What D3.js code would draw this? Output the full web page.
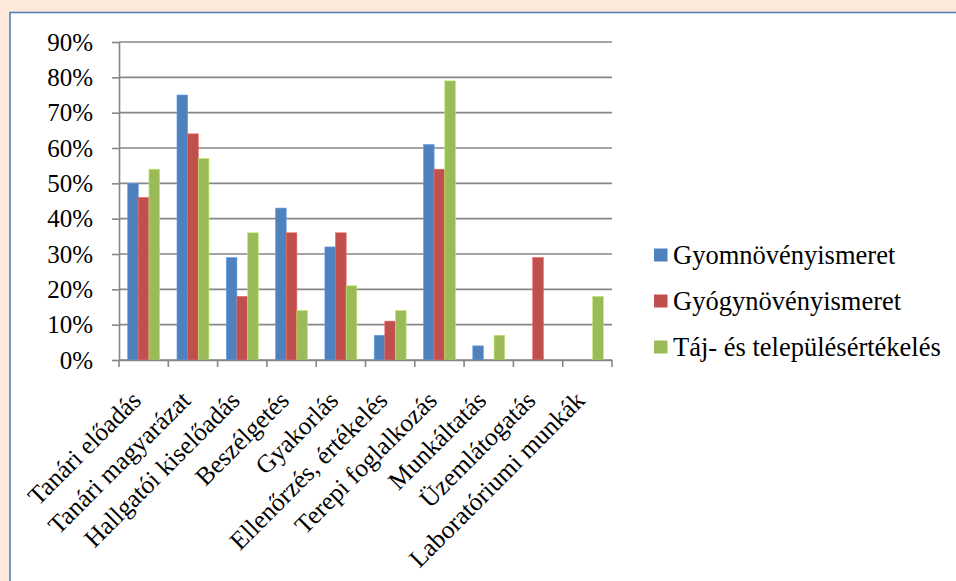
<!DOCTYPE html>
<html><head><meta charset="utf-8">
<script src="https://cdn.jsdelivr.net/npm/d3@7"></script>
<style>body{margin:0;background:#FDE9D9;} svg{display:block;}</style>
</head><body>
<svg id="c" width="956" height="581"></svg>
<script>
const categories = ["Tanári előadás","Tanári magyarázat","Hallgatói kiselőadás","Beszélgetés","Gyakorlás","Ellenőrzés, értékelés","Terepi foglalkozás","Munkáltatás","Üzemlátogatás","Laboratóriumi munkák"];
const seriesNames = ["Gyomnövényismeret","Gyógynövényismeret","Táj- és településértékelés"];
const gyom = [50,75,29,43,32,7,61,4,0,0];
const gyogy = [46,64,18,36,36,11,54,0,29,0];
const taj = [54,57,36,14,21,14,79,7,0,18];
const colors = ["#4F81BD","#C0504D","#9BBB59"];
const yTicks = [0,10,20,30,40,50,60,70,80,90];

const values = [gyom, gyogy, taj];
const svg = d3.select("#c");
const font = "Liberation Serif, Times New Roman, serif";

svg.append("rect").attr("x",0).attr("y",0).attr("width",956).attr("height",581).attr("fill","#FDE9D9");
svg.append("rect").attr("x",10).attr("y",12.5).attr("width",1000).attr("height",1000)
  .attr("fill","#fff").attr("stroke","#4F81BD").attr("stroke-width",1.6);

const L=119, R=612, T=42, B=360;
const x = d3.scaleBand().domain(categories).range([L,R]).paddingInner(0).paddingOuter(0);
const y = d3.scaleLinear().domain([0,90]).range([B,T]);
const grid = "#878787";

svg.append("g").selectAll("line").data(yTicks).join("line")
  .attr("x1",L).attr("x2",R).attr("y1",d=>y(d)).attr("y2",d=>y(d))
  .attr("stroke",grid).attr("stroke-width",1.6);

const bw = x.bandwidth()*0.216;
const inner = d3.scaleBand().domain(d3.range(3)).range([0,bw*3]);
const gOff = (x.bandwidth()-bw*3)/2;
values.forEach((vals,si)=>{
  svg.append("g").selectAll("rect").data(vals.map((v,i)=>({v,c:categories[i]}))).join("rect")
    .attr("x",d=>x(d.c)+gOff+inner(si))
    .attr("y",d=>y(d.v))
    .attr("width",bw)
    .attr("height",d=>B-y(d.v))
    .attr("fill",colors[si])
    .attr("stroke",d=>d.v>0?d3.color(colors[si]).brighter(0.6):"none")
    .attr("stroke-width",0.6);
});

const yAxis = d3.axisLeft(y).tickValues(yTicks).tickFormat(d=>d+"%").tickSize(7).tickSizeOuter(0);
const ya = svg.append("g").attr("transform",`translate(${L},0)`).call(yAxis);
ya.attr("font-family",null).attr("font-size",null);
ya.select(".domain").attr("stroke",grid).attr("stroke-width",1.6);
ya.selectAll(".tick line").attr("stroke",grid).attr("stroke-width",1.6);
ya.selectAll(".tick text").attr("x",-26).style("font-family",font).style("font-size","25px").attr("fill","#000");

const xAxis = d3.axisBottom(x).tickSize(0).tickSizeOuter(0);
const xa = svg.append("g").attr("transform",`translate(0,${B})`).call(xAxis);
xa.attr("font-family",null).attr("font-size",null);
xa.select(".domain").attr("stroke",grid).attr("stroke-width",1.6);
xa.selectAll(".tick text")
  .style("font-family",font).style("font-size","25.5px").attr("fill","#000")
  .attr("text-anchor","end").attr("dy",0).attr("y",0)
  .attr("transform","translate(-1,42) rotate(-45)");
const bounds = categories.map(c=>x(c)).concat([R]);
svg.append("g").selectAll("line").data(bounds).join("line")
  .attr("x1",d=>d).attr("x2",d=>d).attr("y1",B).attr("y2",B+7)
  .attr("stroke",grid).attr("stroke-width",1.6);

const lg = svg.append("g");
seriesNames.forEach((n,i)=>{
  const cy = 255 + i*46;
  lg.append("rect").attr("x",654).attr("y",cy-6.5).attr("width",13.5).attr("height",13).attr("fill",colors[i]);
  lg.append("text").attr("x",673).attr("y",cy+9).style("font-family",font).style("font-size","26.5px").attr("fill","#000").text(n);
});
</script>
</body></html>
